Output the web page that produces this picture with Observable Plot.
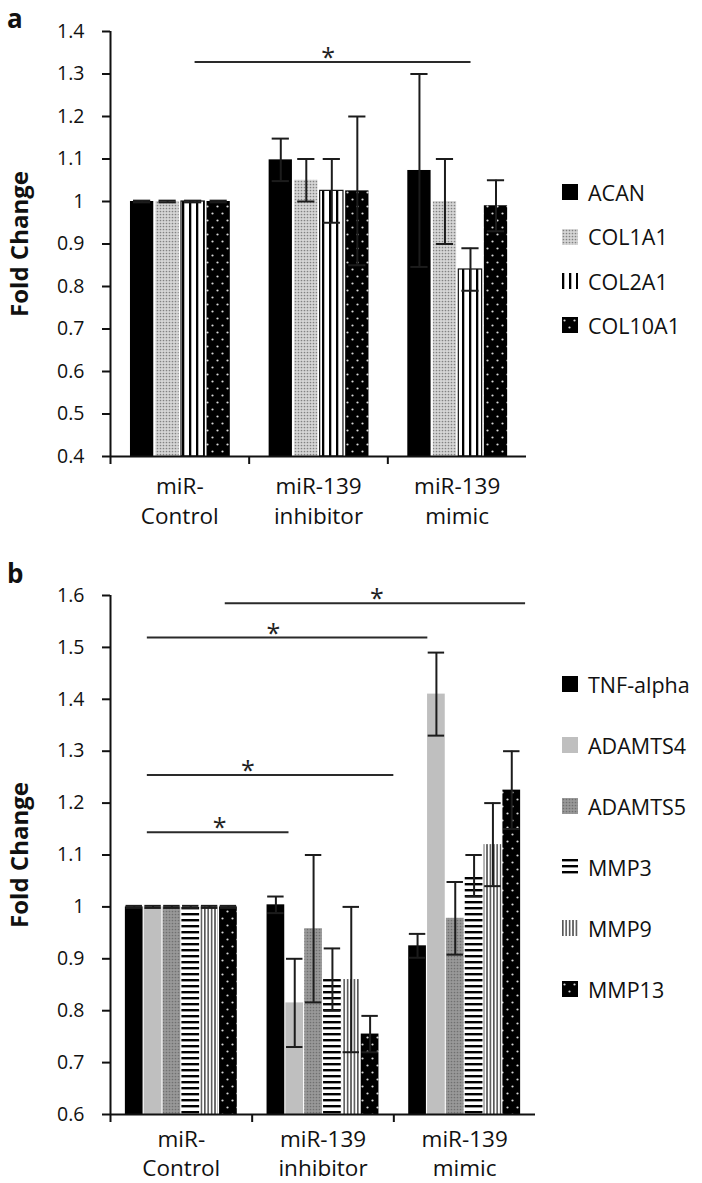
<!DOCTYPE html>
<html>
<head>
<meta charset="utf-8">
<script src="https://cdn.jsdelivr.net/npm/d3@7"></script>
<script src="https://cdn.jsdelivr.net/npm/@observablehq/plot@0.6"></script>
<style>
  body { margin: 0; background: #fff; font-family: "Open Sans", sans-serif; }
  #root { position: relative; width: 702px; height: 1183px; overflow: hidden; }
  #root > svg { display: block; }
  .letter { position: absolute; left: 7px; font-weight: 700; font-size: 26px; line-height: normal; color: #111; }
  .item { position: absolute; left: 562px; height: 24px; display: flex; align-items: center; white-space: nowrap; font-size: 21.5px; color: #111; }
  .item svg { margin-right: 10px; flex: none; }
</style>
</head>
<body>
<svg width="0" height="0" style="position:absolute">
  <defs>
    <pattern id="pDotsLight" width="3" height="3" patternUnits="userSpaceOnUse">
      <rect width="3" height="3" fill="#d6d6d6"/><circle cx="1.5" cy="1.5" r="0.85" fill="#828282"/>
    </pattern>
    <pattern id="pVert" width="7" height="7" patternUnits="userSpaceOnUse">
      <rect width="7" height="7" fill="#fff"/><rect x="0" width="2.3" height="7" fill="#000"/>
    </pattern>
    <pattern id="pBlackDots" width="10" height="14" patternUnits="userSpaceOnUse">
      <rect width="10" height="14" fill="#000"/>
      <circle cx="2.5" cy="3.5" r="1.1" fill="#d8d8d8"/><circle cx="7.5" cy="10.5" r="1.1" fill="#d8d8d8"/>
    </pattern>
    <pattern id="pGrayTex" width="3" height="3" patternUnits="userSpaceOnUse">
      <rect width="3" height="3" fill="#999"/><circle cx="1.5" cy="1.5" r="0.85" fill="#707070"/>
    </pattern>
    <pattern id="pHoriz" width="6" height="6" patternUnits="userSpaceOnUse">
      <rect width="6" height="6" fill="#fff"/><rect y="0" width="6" height="2.4" fill="#000"/>
    </pattern>
    <pattern id="pVertFine" width="3.4" height="4" patternUnits="userSpaceOnUse">
      <rect width="3.4" height="4" fill="#fff"/><rect x="0" width="1.6" height="4" fill="#555"/>
    </pattern>
  </defs>
</svg>
<div id="root"></div>
<script>
// ---------- data ----------
const groups = ["miR-Control", "miR-139 inhibitor", "miR-139 mimic"];
const groupLabels = ["miR-\nControl", "miR-139\ninhibitor", "miR-139\nmimic"];

// panel a
const genesA = ["ACAN", "COL1A1", "COL2A1", "COL10A1"];
const ACAN    = [1.000, 1.098, 1.073];
const COL1A1  = [1.000, 1.050, 1.000];
const COL2A1  = [1.000, 1.025, 0.840];
const COL10A1 = [1.000, 1.025, 0.990];
const errACAN    = [0.002, 0.050, 0.227];
const errCOL1A1  = [0.002, 0.050, 0.100];
const errCOL2A1  = [0.002, 0.075, 0.050];
const errCOL10A1 = [0.002, 0.175, 0.060];
const yTicksA = [0.4, 0.5, 0.6, 0.7, 0.8, 0.9, 1.0, 1.1, 1.2, 1.3, 1.4];
// significance bars (x in group units, y in fold change)
const sigA = [{x1: 0.61, x2: 2.60, y: 1.328, star: 1.57}];

// panel b
const genesB = ["TNF-alpha", "ADAMTS4", "ADAMTS5", "MMP3", "MMP9", "MMP13"];
const TNF     = [1.000, 1.004, 0.925];
const ADAMTS4 = [1.000, 0.815, 1.410];
const ADAMTS5 = [1.000, 0.958, 0.978];
const MMP3    = [1.000, 0.860, 1.060];
const MMP9    = [1.000, 0.860, 1.120];
const MMP13   = [1.000, 0.755, 1.225];
const errTNF     = [0.002, 0.016, 0.023];
const errADAMTS4 = [0.002, 0.085, 0.080];
const errADAMTS5 = [0.002, 0.142, 0.070];
const errMMP3    = [0.002, 0.060, 0.040];
const errMMP9    = [0.002, 0.140, 0.080];
const errMMP13   = [0.002, 0.035, 0.075];
const yTicksB = [0.6, 0.7, 0.8, 0.9, 1.0, 1.1, 1.2, 1.3, 1.4, 1.5, 1.6];
const sigB = [
  {x1: 0.81, x2: 2.93, y: 1.585, star: 1.88},
  {x1: 0.26, x2: 2.24, y: 1.519, star: 1.15},
  {x1: 0.26, x2: 2.00, y: 1.254, star: 0.97},
  {x1: 0.26, x2: 1.26, y: 1.144, star: 0.77}
];

// ---------- styles ----------
const fillsA = ["#000", "url(#pDotsLight)", "url(#pVert)", "url(#pBlackDots)"];
const strokesA = [null, null, "#111", null];
const fillsB = ["#000", "#bfbfbf", "url(#pGrayTex)", "url(#pHoriz)", "url(#pVertFine)", "url(#pBlackDots)"];
const strokesB = [null, null, null, null, null, null];

const fmt = d3.format("~g");

function panel(cfg) {
  const {genes, series, errs, fills, strokes, yDomain, yTicks, height, mt, mb, mr, outer, bar, gap, cap, sig, labelDy, labelLH} = cfg;
  const data = [];
  groups.forEach((g, gi) => genes.forEach((gene, j) => {
    const v = series[j][gi], e = errs[j][gi];
    const x1 = gi + outer + j * (bar + gap);
    data.push({group: g, gene, v, lo: v - e, hi: v + e, x1, x2: x1 + bar, xc: x1 + bar / 2});
  }));
  const barMarks = genes.flatMap((gene, j) => {
    const sub = data.filter(d => d.gene === gene);
    const m = [Plot.rectY(sub, {x1: "x1", x2: "x2", y1: yDomain[0], y2: "v", fill: fills[j]})];
    if (strokes[j]) m.push(Plot.rectY(sub, {x1: "x1", x2: "x2", y1: yDomain[0], y2: "v", fill: "none", stroke: strokes[j], strokeWidth: 1.2}));
    return m;
  });
  const ink = "#1c1c1c";
  return Plot.plot({
    width: 702, height, marginTop: mt, marginBottom: mb, marginLeft: 110, marginRight: mr,
    style: {fontFamily: "Open Sans", fontSize: "19px", color: "#111", background: "transparent", overflow: "visible"},
    x: {domain: [0, 3]},
    y: {domain: yDomain},
    marks: [
      ...barMarks,
      Plot.ruleX(data, {x: "xc", y1: "lo", y2: "hi", stroke: ink, strokeWidth: 2}),
      Plot.ruleY(data, {y: "hi", x1: d => d.xc - cap, x2: d => d.xc + cap, stroke: ink, strokeWidth: 2}),
      Plot.ruleY(data, {y: "lo", x1: d => d.xc - cap, x2: d => d.xc + cap, stroke: ink, strokeWidth: 2}),
      Plot.ruleY(sig, {y: "y", x1: "x1", x2: "x2", stroke: "#2a2a2a", strokeWidth: 2}),
      Plot.text(sig, {x: "star", y: "y", text: () => "*", lineAnchor: "bottom", dy: 4, fontSize: 25, fill: "#222"}),
      Plot.ruleX([0], {stroke: "#111", strokeWidth: 2}),
      Plot.ruleY([yDomain[0]], {stroke: "#111", strokeWidth: 2}),
      Plot.axisY({ticks: yTicks, tickSize: 8, tickPadding: 18, tickFormat: fmt, strokeWidth: 2, fontSize: 19.5, label: null}),
      Plot.axisX({ticks: [0, 1, 2], tickSize: 8, tickFormat: () => "", strokeWidth: 2, label: null}),
      Plot.text(groupLabels, {x: (d, i) => i + 0.5, text: d => d, frameAnchor: "bottom", lineAnchor: "top", dy: labelDy, fontSize: 22.5, lineHeight: labelLH, fill: "#111"}),
      Plot.text(["Fold Change"], {text: d => d, frameAnchor: "left", dx: -90, rotate: -90, textAnchor: "middle", lineAnchor: "middle", fontSize: 24, fontWeight: "bold", fill: "#111"})
    ]
  });
}

const root = document.getElementById("root");

const plotA = panel({
  genes: genesA, series: [ACAN, COL1A1, COL2A1, COL10A1],
  errs: [errACAN, errCOL1A1, errCOL2A1, errCOL10A1],
  fills: fillsA, strokes: strokesA, yDomain: [0.4, 1.4], yTicks: yTicksA,
  height: 565, mt: 31, mb: 109, mr: 176,
  outer: 0.144, bar: 0.168, gap: 0.016, cap: 0.062, sig: sigA, labelDy: 16, labelLH: 1.33
});
const plotB = panel({
  genes: genesB, series: [TNF, ADAMTS4, ADAMTS5, MMP3, MMP9, MMP13],
  errs: [errTNF, errADAMTS4, errADAMTS5, errMMP3, errMMP9, errMMP13],
  fills: fillsB, strokes: strokesB, yDomain: [0.6, 1.6], yTicks: yTicksB,
  height: 618, mt: 30, mb: 69, mr: 167,
  outer: 0.105, bar: 0.125, gap: 0.008, cap: 0.058, sig: sigB, labelDy: 12, labelLH: 1.28
});
root.appendChild(plotA);
root.appendChild(plotB);

// panel letters
function letter(t, top) {
  const el = document.createElement("div");
  el.className = "letter"; el.textContent = t; el.style.top = top + "px";
  root.appendChild(el);
}
letter("a", 0);
letter("b", 555);

// legends
function legend(genes, fills, centers) {
  genes.forEach((g, j) => {
    const item = document.createElement("div");
    item.className = "item";
    item.style.top = (centers[j] - 12) + "px";
    const sw = d3.create("svg").attr("width", 16).attr("height", 16);
    sw.append("rect").attr("width", 16).attr("height", 16).attr("fill", fills[j]);
    item.appendChild(sw.node());
    const span = document.createElement("span");
    span.textContent = g;
    item.appendChild(span);
    root.appendChild(item);
  });
}
legend(genesA, fillsA, [192, 236.5, 281, 325]);
legend(genesB, fillsB, [684, 745, 806, 867, 928, 989]);
</script>
</body>
</html>
